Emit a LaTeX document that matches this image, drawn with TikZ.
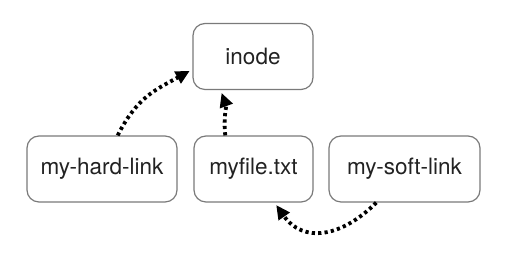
\documentclass[tikz,border=0pt]{standalone}
\usepackage{fontspec}
\setmainfont{TeX Gyre Heros}
\usetikzlibrary{arrows.meta}
\definecolor{boxgray}{HTML}{7A7A7A}
\definecolor{txtgray}{HTML}{222222}
\begin{document}
\begin{tikzpicture}[x=0.5pt, y=0.5pt,
    box/.style={draw=boxgray, line width=0.6pt, rounded corners=6pt, inner sep=0pt,
        minimum height=33pt, text=txtgray, font=\fontsize{11.25}{13.5}\selectfont},
    link/.style={line width=1.9pt, dash pattern=on 1.6pt off 1.6pt,
        -{Triangle[length=7pt,width=6.5pt]}, shorten >=1.5pt}]
    \useasboundingbox (0,0) rectangle (514,255);
    \node[box, minimum width=60pt] (inode) at (253,198.5) {inode};
    \node[box, minimum width=75pt] (hardlink) at (102,86) {my-hard-link};
    \node[box, minimum width=59.5pt] (myfile) at (253.5,86) {myfile.txt};
    \node[box, minimum width=75.5pt] (softlink) at (404.5,86) {my-soft-link};
    \draw[link] (hardlink.65) to[out=63, in=209, looseness=1.1] (inode.192);
    \draw[link] (myfile.130) to[out=97, in=-70] (inode.226);
    \draw[link] (softlink.230) to[out=-135, in=-55, looseness=1.25] (myfile.302);
\end{tikzpicture}
\end{document}
